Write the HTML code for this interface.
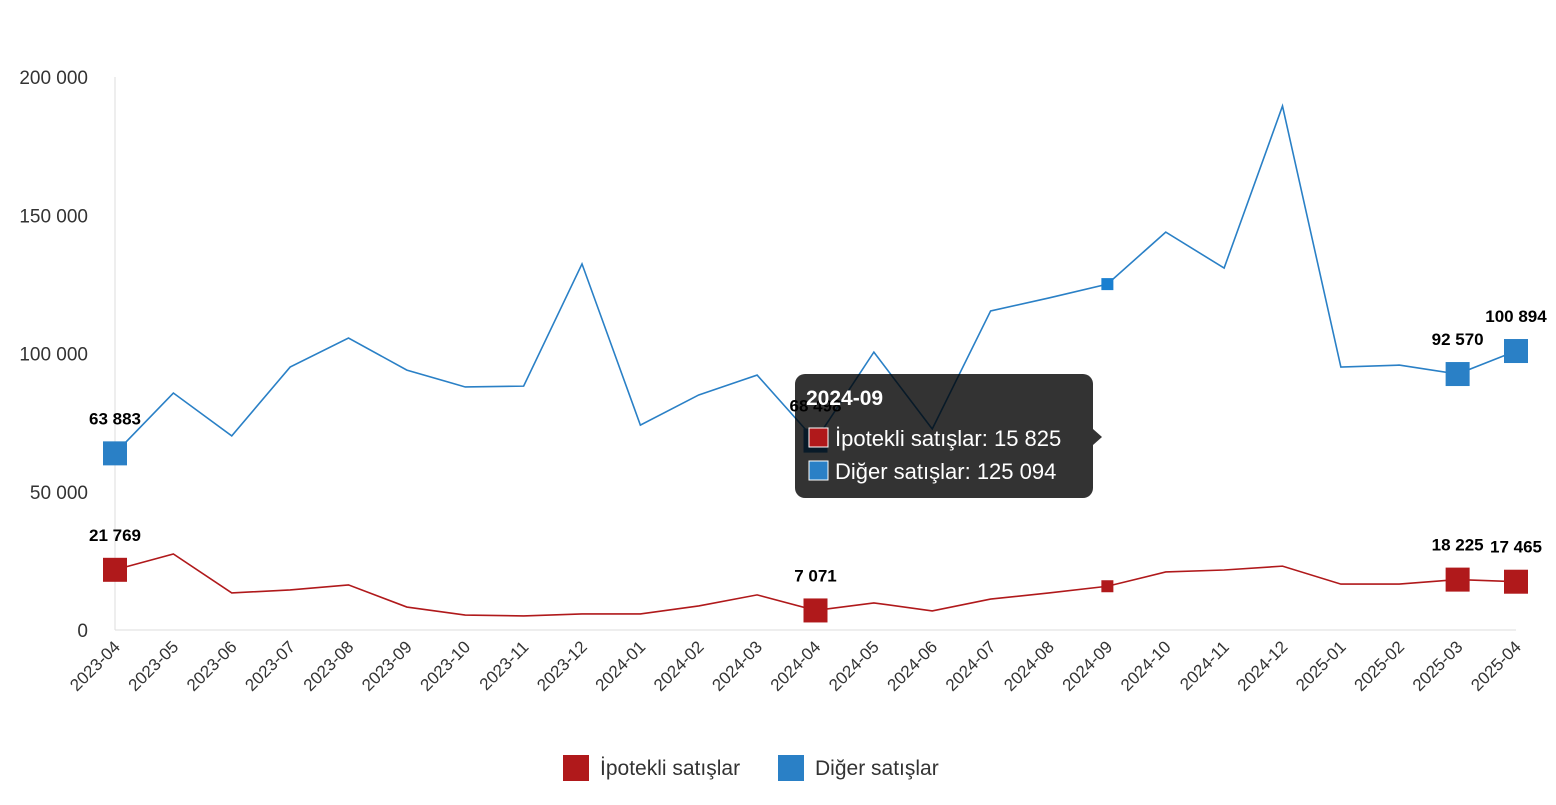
<!DOCTYPE html>
<html><head><meta charset="utf-8"><style>
body{margin:0;background:#fff;font-family:"Liberation Sans","DejaVu Sans",sans-serif}
svg text{font-family:"Liberation Sans","DejaVu Sans",sans-serif}
</style></head><body>
<svg id="chart" width="1556" height="800" viewBox="0 0 1556 800" xmlns="http://www.w3.org/2000/svg"></svg>
<script>
const categories=["2023-04","2023-05","2023-06","2023-07","2023-08","2023-09","2023-10","2023-11","2023-12","2024-01","2024-02","2024-03","2024-04","2024-05","2024-06","2024-07","2024-08","2024-09","2024-10","2024-11","2024-12","2025-01","2025-02","2025-03","2025-04"];
const mortgageSales=[21769,27500,13400,14500,16300,8300,5400,5100,5800,5800,8700,12700,7071,9800,6900,11200,13400,15825,21000,21700,23100,16600,16600,18225,17465];
const otherSales=[63883,85700,70200,95100,105600,94000,87900,88200,132400,74100,85000,92200,68498,100500,72700,115400,120100,125094,143900,130900,189500,95100,95800,92570,100894];
const yTicks=[0,50000,100000,150000,200000];
const labeledIdx=[0,12,23,24];
const seriesNames=["İpotekli satışlar","Diğer satışlar"];
const colors=["#b0191b","#2a80c6"];
const NS="http://www.w3.org/2000/svg";
const svg=document.getElementById("chart");
const x0=115,x1=1516,yB=630,yT=77;
const xs=i=>x0+i*(x1-x0)/(categories.length-1);
const ys=v=>yB-v*(yB-yT)/200000;
const fmt=v=>String(v).replace(/\B(?=(\d{3})+(?!\d))/g," ");
function mk(tag,attrs,parent){const e=document.createElementNS(NS,tag);for(const k in attrs)e.setAttribute(k,attrs[k]);(parent||svg).appendChild(e);return e;}
// axes
let a=mk("line",{x1:x0,y1:yT,x2:x0,y2:yB,stroke:"#ddd"});


a=mk("line",{x1:x0,y1:yB,x2:x1,y2:yB,stroke:"#ddd"});


yTicks.forEach(v=>{const t=mk("text",{x:88,y:ys(v)+7,"text-anchor":"end","font-size":19,fill:"#333"});t.textContent=fmt(v);

});
categories.forEach((c,i)=>{const t=mk("text",{x:0,y:0,"text-anchor":"end","font-size":17,fill:"#333",transform:`translate(${xs(i)+6},${648}) rotate(-45)`});t.textContent=c;

});
[mortgageSales,otherSales].forEach((data,s)=>{
 const p=mk("polyline",{points:data.map((v,i)=>xs(i)+","+ys(v)).join(" "),fill:"none",stroke:colors[s],"stroke-width":1.6});
 
 
 labeledIdx.forEach(i=>{
  const r=mk("rect",{x:xs(i)-12,y:ys(data[i])-12,width:24,height:24,fill:colors[s]});
  
  
  const t=mk("text",{x:xs(i),y:ys(data[i])-29,"text-anchor":"middle","font-size":17,"font-weight":"bold",fill:"#000"});
  t.textContent=fmt(data[i]);
  
  
 });
 const h=mk("rect",{x:xs(17)-6,y:ys(data[17])-6,width:12,height:12,fill:s?"#1a7fd0":"#b0191b"});
 
 
});
// tooltip
const g=mk("g",{});


mk("rect",{x:795,y:374,width:298,height:124,rx:10,fill:"rgba(0,0,0,0.8)"},g);
mk("polygon",{points:"1093,429 1102,437 1093,445",fill:"rgba(0,0,0,0.8)"},g);
let t=mk("text",{x:806,y:405,"font-size":21,"font-weight":"bold",fill:"#fff"},g);t.textContent=categories[17];
[mortgageSales,otherSales].forEach((d,s)=>{const yy=438+s*33;
 mk("rect",{x:809,y:yy-10,width:19,height:19,fill:colors[s],stroke:"#fff","stroke-width":1},g);
 const tt=mk("text",{x:835,y:yy+8,"font-size":22,fill:"#fff"},g);tt.textContent=seriesNames[s]+": "+fmt(d[17]);
 
 });
// legend
[[563,600],[778,815]].forEach((p,s)=>{
 const r=mk("rect",{x:p[0],y:755,width:26,height:26,fill:colors[s]});
 
 
 const l=mk("text",{x:p[1],y:775,"font-size":21,fill:"#333"});l.textContent=seriesNames[s];
 
 
});
</script>
</body></html>
